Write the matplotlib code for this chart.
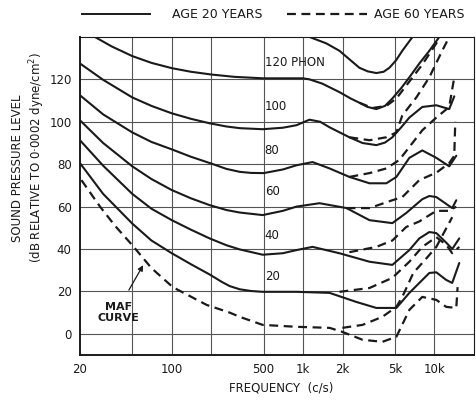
import matplotlib
matplotlib.use("Agg")
import matplotlib.pyplot as plt
from matplotlib.ticker import FixedLocator, NullLocator

# ---- equal-loudness contours, age 20 (solid) ----
f_130 = [1120, 1500, 1890, 2300, 2680, 3100, 3610, 4100, 4540, 5100, 5690, 6800]
L_130 = [140, 137, 133.5, 129, 125.5, 123.8, 123, 123.6, 125.5, 129, 133.5, 140]

f_120 = [26, 35, 50, 70, 100, 140, 200, 300, 500, 1000, 1120, 1400, 1890, 2300, 2680, 3100, 3610, 4200, 4780, 5600, 6440, 7670, 9140, 10880]
L_120 = [140, 135.5, 131, 127.8, 125.3, 123.6, 122.3, 121.2, 120.5, 120.5, 120, 118, 114, 111, 109, 107, 106, 107.5, 111, 116, 121, 127.5, 133.5, 140]

f_100 = [20, 30, 50, 70, 100, 140, 194, 260, 329, 492, 700, 891, 1118, 1350, 1590, 2250, 2830, 3610, 4200, 4780, 5600, 6440, 8080, 10330, 12950, 14150]
L_100 = [127.5, 119.8, 111.5, 107.5, 104, 101.4, 99.3, 97.8, 97, 96.5, 97.2, 98.4, 101, 100, 97.4, 92.7, 90, 89, 90.2, 92.7, 97.5, 102, 107, 107.8, 106, 112]

f_80 = [20, 30, 50, 70, 100, 140, 200, 260, 329, 400, 500, 700, 891, 1180, 1590, 2250, 3200, 4300, 5130, 6440, 8080, 10330, 12950, 14660]
L_80 = [112.5, 103.5, 95, 90.5, 87, 83.5, 80.3, 77.8, 76.4, 75.9, 75.8, 77.5, 79.5, 81, 78, 74, 71, 71, 74, 83, 86.5, 83, 79, 84]

f_60 = [20, 30, 50, 70, 100, 140, 194, 260, 329, 492, 700, 891, 1333, 2140, 3200, 4780, 6100, 8080, 9140, 10330, 13650, 14660]
L_60 = [100.7, 90, 79, 73, 67.8, 63.9, 60.7, 58.4, 57.2, 56, 58, 60, 61.6, 59.3, 53.6, 52.2, 57, 63.5, 65, 64.5, 59.3, 63]

f_40 = [20, 30, 50, 70, 100, 140, 194, 260, 329, 492, 700, 891, 1180, 1890, 3200, 4780, 6440, 7670, 9140, 10330, 12290, 13650, 15450]
L_40 = [91.3, 79.3, 66, 59, 53.6, 49.1, 45, 41.8, 39.8, 37.3, 38, 39.5, 41, 38, 34, 32.5, 39.5, 45, 48, 47.5, 43, 40, 45]

f_20 = [20, 30, 50, 70, 100, 140, 194, 240, 276, 329, 400, 492, 891, 1590, 2550, 3610, 5130, 6440, 9140, 10330, 12290, 13650, 15450]
L_20 = [80.5, 66, 52, 44, 38, 32.8, 28, 24.5, 22.5, 21, 20.2, 19.8, 19.8, 19.3, 15, 12.2, 12.2, 19.3, 28.7, 29, 25.4, 24, 33.4]

# minimum audible field, age 20 (dashed)
f_maf = [20.5, 28.4, 36.9, 50.5, 70, 101.8, 184.6, 276, 329, 492, 891, 1590, 1990, 2830, 4010, 5130, 6440, 8080, 10330, 12290, 14660, 15000]
L_maf = [72.5, 60, 51, 41.5, 31, 22, 13.6, 10, 8, 4.2, 3.3, 2.8, 0.9, -2.8, -3.8, -1.4, 11.3, 17.4, 16, 12.7, 12.2, 22]

# ---- age 60 (dashed), diverging above ~2 kHz ----
f_120o = [2680, 3370, 4300, 5130, 6440, 8080, 10330, 11000]
L_120o = [109, 106.5, 107.5, 111, 119, 127, 137, 140]

f_100o = [2250, 3200, 4300, 5130, 5690, 7280, 9140, 11470, 12950]
L_100o = [92.7, 91.3, 92.7, 95, 103, 111.5, 121, 133.6, 140]

f_80o = [2250, 3200, 4300, 5400, 8080, 10330, 12950, 14150]
L_80o = [74, 75.8, 78, 82, 96, 102, 107, 121]

f_60o = [2140, 3200, 4780, 5690, 7670, 10330, 12950, 14150, 14400]
L_60o = [59.3, 59.3, 63, 64.5, 72.5, 76, 80.5, 84, 100]

f_40o = [2250, 3610, 4780, 6100, 7670, 10330, 12950, 14660]
L_40o = [38.5, 41, 44, 50.4, 53, 58, 58, 60]

f_20o = [1890, 3200, 4780, 6440, 8080, 10330, 12290, 13650, 15450]
L_20o = [19.8, 21.6, 26.4, 34, 41, 45.6, 42, 38, 41]

f_mafo = [1990, 2830, 4010, 5130, 5690, 6900, 8800, 10330, 13650]
L_mafo = [2.8, 4.2, 8, 12.7, 17.4, 28.7, 36, 41, 55]

phon_labels = ["120 PHON", "100", "80", "60", "40", "20"]
phon_label_levels = [125, 104, 83.5, 64, 43.5, 24]

x_ticks = [20, 100, 500, 1000, 2000, 5000, 10000]
x_tick_labels = ["20", "100", "500", "1k", "2k", "5k", "10k"]
x_grid = [50, 100, 200, 500, 1000, 2000, 5000, 10000]
y_ticks = [0, 20, 40, 60, 80, 100, 120]

plt.rcParams['font.family'] = ['DejaVu Sans']
ink = "#1a1a1a"

fig = plt.figure(figsize=(4.76, 4.05), dpi=100)
ax = fig.add_axes([80 / 476, 50 / 405, 394 / 476, 318 / 405])
ax.set_xscale("log")
ax.set_xlim(20, 20000)
ax.set_ylim(-10, 140)

for xv in x_grid:
    ax.axvline(xv, color="#555555", lw=0.8, zorder=1)
for yv in y_ticks:
    ax.axhline(yv, color="#555555", lw=0.8, zorder=1)

solid = [(f_130, L_130), (f_120, L_120), (f_100, L_100), (f_80, L_80),
         (f_60, L_60), (f_40, L_40), (f_20, L_20)]
for fx, lv in solid:
    ax.plot(fx, lv, color=ink, lw=1.5, solid_capstyle="round",
            solid_joinstyle="round", zorder=3)

dashed = [(f_maf, L_maf), (f_120o, L_120o), (f_100o, L_100o), (f_80o, L_80o),
          (f_60o, L_60o), (f_40o, L_40o), (f_20o, L_20o), (f_mafo, L_mafo)]
for fx, lv in dashed:
    ax.plot(fx, lv, color=ink, lw=1.6, ls=(0, (4, 2.5)), zorder=3)

for txt, lv in zip(phon_labels, phon_label_levels):
    ax.text(510, lv, txt, fontsize=8.5, color=ink, ha="left", va="bottom", zorder=4)

ax.text(39, 10, "MAF\nCURVE", fontsize=8, fontweight="bold", color=ink,
        ha="center", va="center", linespacing=1.1)
ax.annotate("", xy=(62, 33.5), xytext=(46, 19.5),
            arrowprops=dict(arrowstyle="-|>", color=ink, lw=0.9, mutation_scale=8))

ax.xaxis.set_major_locator(FixedLocator(x_ticks))
ax.xaxis.set_minor_locator(NullLocator())
ax.set_xticklabels(x_tick_labels)
ax.set_yticks(y_ticks)
ax.set_yticklabels([str(v) for v in y_ticks])
ax.tick_params(length=0, labelsize=8.5, colors=ink, pad=6)
for side in ["left", "bottom"]:
    ax.spines[side].set_linewidth(1.4)
for side in ["top", "right"]:
    ax.spines[side].set_linewidth(0.8)
for s in ax.spines.values():
    s.set_color(ink)

fig.text(281 / 476, 1 - 388 / 405, "FREQUENCY  (c/s)", fontsize=8.5, color=ink,
         ha="center", va="center")
fig.text(18 / 476, 1 - 168 / 405, "SOUND PRESSURE LEVEL", fontsize=8.5, color=ink,
         rotation=90, ha="center", va="center")
fig.text(37 / 476, 1 - 157 / 405, "(dB RELATIVE TO 0·0002 dyne/cm$^2$)", fontsize=8.5,
         color=ink, rotation=90, ha="center", va="center")

# legend row above the axes
fig.add_artist(plt.Line2D([82 / 476, 150 / 476], [1 - 14 / 405] * 2, color=ink, lw=1.4))
fig.text(172 / 476, 1 - 15 / 405, "AGE 20 YEARS", fontsize=9, color=ink, ha="left", va="center")
fig.add_artist(plt.Line2D([287 / 476, 367 / 476], [1 - 14 / 405] * 2, color=ink, lw=1.6,
                          ls=(0, (4, 2.5))))
fig.text(374 / 476, 1 - 15 / 405, "AGE 60 YEARS", fontsize=9, color=ink, ha="left", va="center")

fig.savefig("out.png", dpi=100)
